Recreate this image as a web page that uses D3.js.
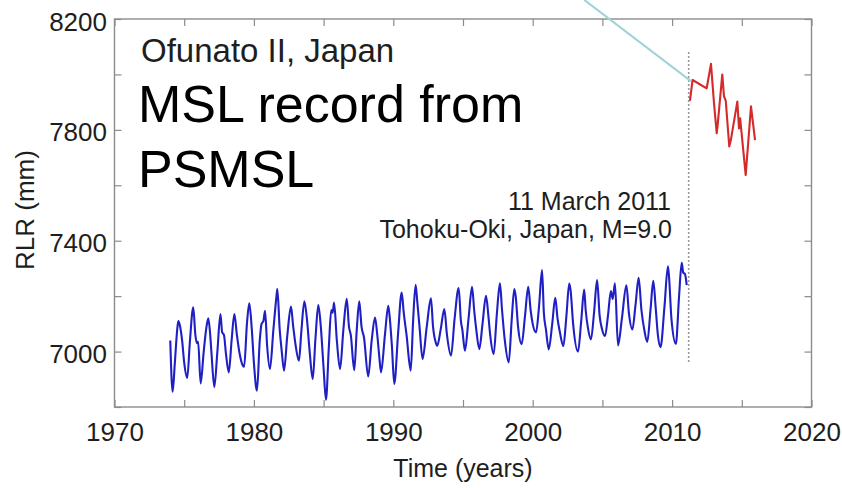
<!DOCTYPE html>
<html>
<head>
<meta charset="utf-8">
<script src="https://cdn.jsdelivr.net/npm/d3@7/dist/d3.min.js"></script>
<style>
  html, body { margin: 0; padding: 0; background: #fff; }
  svg { display: block; font-family: "Liberation Sans", Arial, sans-serif; }
</style>
</head>
<body>
<svg id="chart" width="842" height="488"></svg>
<script>
// ---------------- DATA ----------------
const xTicks = [1970, 1975, 1980, 1985, 1990, 1995, 2000, 2005, 2010, 2015, 2020];
const xLabels = [1970, 1980, 1990, 2000, 2010, 2020];
const yTicks = [6800, 7000, 7200, 7400, 7600, 7800, 8000, 8200];
const yLabels = [7000, 7400, 7800, 8200];

// Monthly MSL (RLR, mm) before the earthquake, [year, mm]
const msl1974_1979 = [
  [1974.00,7040],[1974.17,6855],[1974.33,6960],[1974.50,7080],[1974.58,7110],[1974.70,7092],[1974.85,7040],[1975.00,6960],
  [1975.22,6905],[1975.40,7030],[1975.65,7160],[1975.80,7060],[1975.92,7030],[1976.00,7035],
  [1976.18,6885],[1976.40,7000],[1976.60,7090],[1976.73,7120],[1976.85,7070],[1976.95,7000],
  [1977.16,6872],[1977.38,7000],[1977.60,7135],[1977.72,7070],[1977.85,7060],[1978.00,6990],
  [1978.20,6925],[1978.40,7040],[1978.60,7135],[1978.78,7060],[1978.95,7000],
  [1979.20,6950],[1979.30,6945],[1979.50,7100],[1979.67,7174],[1979.85,7080],[1980.00,6960]
];
const msl1980_1989 = [
  [1980.22,6859],[1980.42,7040],[1980.55,7100],[1980.68,7110],[1980.80,7147],[1980.95,7020],
  [1981.15,6937],[1981.40,7080],[1981.62,7200],[1981.68,7226],[1981.85,7080],[1982.00,7000],
  [1982.16,6931],[1982.40,7060],[1982.66,7162],[1982.82,7090],[1983.00,7020],
  [1983.23,6967],[1983.40,7070],[1983.62,7181],[1983.80,7120],[1984.00,7000],
  [1984.22,6901],[1984.42,7050],[1984.62,7168],[1984.80,7090],[1985.00,6940],
  [1985.17,6826],[1985.38,7020],[1985.55,7150],[1985.65,7140],[1985.75,7177],[1985.95,7040],
  [1986.18,6937],[1986.42,7080],[1986.66,7190],[1986.82,7090],[1986.95,7060],
  [1987.20,6933],[1987.38,7080],[1987.56,7181],[1987.72,7090],[1987.90,7050],
  [1988.20,6910],[1988.45,7040],[1988.69,7123],[1988.85,7060],[1988.98,6990],
  [1989.12,6925],[1989.40,7060],[1989.64,7165],[1989.75,7120],[1989.90,7020]
];
const msl1990_1999 = [
  [1990.07,6883],[1990.35,7070],[1990.60,7213],[1990.75,7140],[1990.95,7060],
  [1991.25,6931],[1991.42,7110],[1991.60,7241],[1991.72,7180],[1991.88,7090],
  [1992.10,6973],[1992.40,7090],[1992.70,7192],[1992.85,7090],
  [1993.06,7030],[1993.15,7020],[1993.40,7080],[1993.66,7153],[1993.85,7060],
  [1994.14,6985],[1994.40,7120],[1994.69,7229],[1994.85,7110],[1994.95,7080],
  [1995.14,7003],[1995.40,7120],[1995.65,7234],[1995.80,7150],[1995.95,7080],
  [1996.17,7009],[1996.40,7100],[1996.65,7201],[1996.82,7130],[1996.95,7060],
  [1997.20,6991],[1997.42,7130],[1997.65,7246],[1997.80,7150],[1998.00,7040],
  [1998.28,6961],[1998.50,7120],[1998.68,7226],[1998.78,7200],[1998.95,7090],
  [1999.21,7027],[1999.45,7130],[1999.68,7234],[1999.85,7150],[2000.00,7100]
];
const msl2000_2011 = [
  [2000.24,7069],[2000.45,7160],[2000.67,7294],[2000.80,7140],[2000.95,7080],
  [2001.15,7008],[2001.40,7100],[2001.62,7194],[2001.78,7120],[2001.95,7070],
  [2002.20,7020],[2002.42,7130],[2002.62,7245],[2002.72,7220],[2002.90,7100],
  [2003.25,7000],[2003.48,7110],[2003.69,7224],[2003.80,7150],[2003.98,7080],
  [2004.18,7044],[2004.40,7140],[2004.62,7258],[2004.80,7130],[2004.98,7080],
  [2005.19,7056],[2005.40,7130],[2005.61,7218],[2005.74,7190],[2005.90,7246],[2006.12,7022],
  [2006.40,7120],[2006.72,7239],[2006.90,7140],
  [2007.15,7080],[2007.38,7170],[2007.60,7266],[2007.80,7150],[2008.00,7080],
  [2008.22,7035],[2008.45,7150],[2008.65,7255],[2008.82,7160],[2008.98,7060],
  [2009.17,7016],[2009.45,7160],[2009.70,7308],[2009.78,7270],[2009.95,7120],
  [2010.27,7028],[2010.50,7200],[2010.69,7320],[2010.80,7285],[2010.92,7280],[2011.05,7240]
];
// After the earthquake
const mslPost = [
  [2011.28,7905],[2011.47,7980],[2012.48,7950],[2012.79,8038],[2013.00,7900],[2013.20,7788],[2013.27,7818],
  [2013.60,8000],[2013.72,7922],[2013.85,7905],[2014.10,7740],[2014.22,7765],[2014.68,7902],[2014.80,7805],
  [2014.88,7842],[2015.28,7637],[2015.66,7885],[2015.95,7763]
];
const quakeTime = 2011.19;
const quakeLineRange = [6962, 8082];
const callout = [[2003.7, 8269], [2011.35, 7976]];

// ---------------- LAYOUT ----------------
const svg = d3.select("#chart");
const L = 114.5, R = 811.5, T = 19, B = 407;
const x = d3.scaleLinear().domain([1970, 2020]).range([L, R]);
const y = d3.scaleLinear().domain([6800, 8200]).range([B, T]);
const frameColor = "#8c8c8c";
const textColor = "#1e1e1e";

// axes (ticks pointing inward on all sides)
const fmtX = d => xLabels.includes(d) ? String(d) : "";
const fmtY = d => yLabels.includes(d) ? String(d) : "";

const gB = svg.append("g").attr("transform", `translate(0,${B})`)
  .call(d3.axisBottom(x).tickValues(xTicks).tickFormat(fmtX).tickSizeInner(-7).tickSizeOuter(0));
gB.selectAll("text").attr("y", 34).attr("dy", null);
const gT = svg.append("g").attr("transform", `translate(0,${T})`)
  .call(d3.axisTop(x).tickValues(xTicks).tickFormat("").tickSizeInner(-7).tickSizeOuter(0));
const gL = svg.append("g").attr("transform", `translate(${L},0)`)
  .call(d3.axisLeft(y).tickValues(yTicks).tickFormat(fmtY).tickSizeInner(-7).tickSizeOuter(0));
gL.selectAll("text").attr("x", -7.5).attr("dy", 11);
const gR = svg.append("g").attr("transform", `translate(${R},0)`)
  .call(d3.axisRight(y).tickValues(yTicks).tickFormat("").tickSizeInner(-7).tickSizeOuter(0));

[gB, gT, gL, gR].forEach(g => {
  g.select(".domain").remove();
  g.selectAll(".tick line").attr("stroke", frameColor).attr("stroke-width", 1.2);
  g.selectAll("text").attr("fill", textColor).style("font-size", "26px")
    .style("font-family", "'Liberation Sans', Arial, sans-serif");
});

// frame
svg.append("rect").attr("x", L).attr("y", T).attr("width", R - L).attr("height", B - T)
  .attr("fill", "none").attr("stroke", frameColor).attr("stroke-width", 1.4);

// axis titles
svg.append("text").attr("x", (L + R) / 2).attr("y", 477).attr("text-anchor", "middle")
  .attr("fill", textColor).style("font-size", "25px").text("Time (years)");
svg.append("text").attr("transform", `translate(34,${(T + B) / 2 - 3}) rotate(-90)`)
  .attr("text-anchor", "middle").attr("fill", textColor).style("font-size", "26px").text("RLR (mm)");

// quake line
svg.append("line")
  .attr("x1", x(quakeTime)).attr("x2", x(quakeTime))
  .attr("y1", y(quakeLineRange[0])).attr("y2", y(quakeLineRange[1]))
  .attr("stroke", "#9a9a9a").attr("stroke-width", 1.6).attr("stroke-dasharray", "2,2");

// series
const preLine = d3.line().x(d => x(d[0])).y(d => y(d[1])).curve(d3.curveMonotoneX);
const pre = [].concat(msl1974_1979, msl1980_1989, msl1990_1999, msl2000_2011);
svg.append("path").datum(pre).attr("d", preLine)
  .attr("fill", "none").attr("stroke", "#1f1fc4").attr("stroke-width", 2.1).attr("stroke-linejoin", "round");

const postLine = d3.line().x(d => x(d[0])).y(d => y(d[1])).curve(d3.curveLinear);
svg.append("path").datum(mslPost).attr("d", postLine)
  .attr("fill", "none").attr("stroke", "#d42a2a").attr("stroke-width", 2.1).attr("stroke-linejoin", "round");

// callout line
svg.append("line")
  .attr("x1", x(callout[0][0])).attr("y1", y(callout[0][1]))
  .attr("x2", x(callout[1][0])).attr("y2", y(callout[1][1]))
  .attr("stroke", "#9ed3d9").attr("stroke-width", 2);

// annotations
svg.append("text").attr("x", 141).attr("y", 62).attr("fill", textColor)
  .style("font-size", "33px").text("Ofunato II, Japan");
svg.append("text").attr("x", 138).attr("y", 122).attr("fill", "#000")
  .style("font-size", "52px").text("MSL record from");
svg.append("text").attr("x", 138).attr("y", 187).attr("fill", "#000")
  .style("font-size", "52px").text("PSMSL");
svg.append("text").attr("x", 671).attr("y", 210).attr("text-anchor", "end").attr("fill", textColor)
  .style("font-size", "25px").text("11 March 2011");
svg.append("text").attr("x", 672).attr("y", 238).attr("text-anchor", "end").attr("fill", textColor)
  .style("font-size", "25px").text("Tohoku-Oki, Japan, M=9.0");
</script>
</body>
</html>
